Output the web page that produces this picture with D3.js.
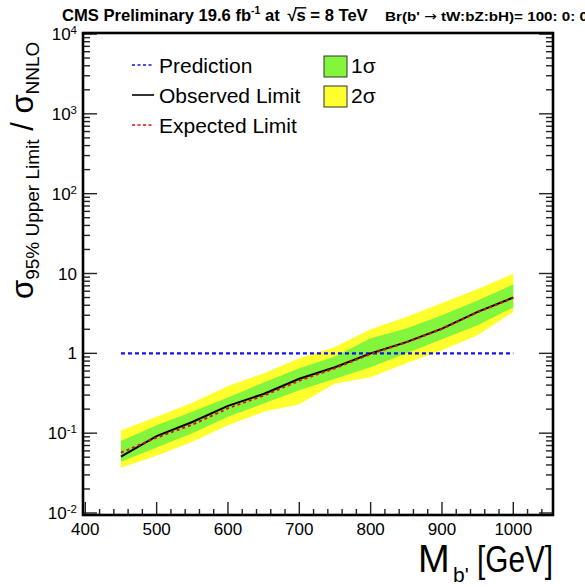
<!DOCTYPE html>
<html>
<head>
<meta charset="utf-8">
<script src="https://cdn.jsdelivr.net/npm/d3@7"></script>
<style>
  html, body { margin: 0; padding: 0; background: #fff; }
  svg { display: block; font-family: "Liberation Sans", Arial, Helvetica, sans-serif; }
  .pre { white-space: pre; }
</style>
</head>
<body>
<svg id="chart" width="585" height="587"></svg>
<script>
// ---------------- data ----------------
const masses    = [450, 500, 550, 600, 650, 700, 750, 800, 850, 900, 950, 1000];
const observed  = [0.051, 0.092, 0.138, 0.22, 0.31, 0.48, 0.67, 1.0, 1.38, 2.04, 3.3, 5.0];
const expected  = [0.057, 0.088, 0.128, 0.205, 0.295, 0.455, 0.65, 0.98, 1.37, 2.02, 3.28, 4.95];
const sigma1Lo  = [0.044, 0.066, 0.100, 0.160, 0.235, 0.345, 0.48, 0.67, 1.00, 1.50, 2.24, 3.76];
const sigma1Hi  = [0.080, 0.126, 0.185, 0.280, 0.430, 0.650, 0.91, 1.54, 2.05, 3.00, 4.60, 7.30];
const sigma2Lo  = [0.037, 0.052, 0.078, 0.126, 0.185, 0.230, 0.42, 0.50, 0.75, 1.09, 1.68, 3.30];
const sigma2Hi  = [0.108, 0.160, 0.240, 0.390, 0.560, 0.870, 1.20, 2.00, 2.85, 4.26, 6.40, 10.0];
const prediction = [1, 1];
const predictionMass = [450, 1000];
const xTicks = [400, 500, 600, 700, 800, 900, 1000];
const yTickExp = [-2, -1, 0, 1, 2, 3, 4];
const legendLines = ["Prediction", "Observed Limit", "Expected Limit"];
const legendBands = ["1σ", "2σ"];

// ---------------- layout ----------------
const svg = d3.select("#chart");
const frame = { left: 83, right: 553, top: 33, bottom: 515 };
const x = d3.scaleLinear().domain([400, 1000]).range([85.3, 513.3]);
const y = d3.scaleLog().domain([1e-2, 1e4]).range([513, 34]);
const GREEN = "#83f53c", YELLOW = "#ffff2e";

const idx = d3.range(masses.length);
const area = (lo, hi) => d3.area()
  .x(i => x(masses[i])).y0(i => y(lo[i])).y1(i => y(hi[i]))(idx);
const line = (vals) => d3.line().x(i => x(masses[i])).y(i => y(vals[i]))(idx);

svg.append("path").attr("d", area(sigma2Lo, sigma2Hi)).attr("fill", YELLOW);
svg.append("path").attr("d", area(sigma1Lo, sigma1Hi)).attr("fill", GREEN);

svg.append("path")
  .attr("d", d3.line().x((d, i) => x(predictionMass[i])).y(d => y(d))(prediction))
  .attr("fill", "none").attr("stroke", "#1010f0").attr("stroke-width", 2.2)
  .attr("stroke-dasharray", "4,3");
svg.append("path").attr("d", line(observed))
  .attr("fill", "none").attr("stroke", "#000").attr("stroke-width", 2);
svg.append("path").attr("d", line(expected))
  .attr("fill", "none").attr("stroke", "#e01010").attr("stroke-width", 2)
  .attr("stroke-dasharray", "3,3");

// ---------------- axes ----------------
const yMinor = [];
for (let e = -2; e < 4; e++) for (let k = 2; k <= 9; k++) yMinor.push(k * Math.pow(10, e));
const yMajor = yTickExp.map(e => Math.pow(10, e));
const tickG = svg.append("g").attr("stroke", "#222").attr("stroke-width", 1.4);
yMajor.forEach(v => {
  tickG.append("line").attr("x1", frame.left).attr("x2", frame.left + 14).attr("y1", y(v)).attr("y2", y(v));
  tickG.append("line").attr("x1", frame.right).attr("x2", frame.right - 14).attr("y1", y(v)).attr("y2", y(v));
});
yMinor.forEach(v => {
  tickG.append("line").attr("x1", frame.left).attr("x2", frame.left + 7).attr("y1", y(v)).attr("y2", y(v));
  tickG.append("line").attr("x1", frame.right).attr("x2", frame.right - 7).attr("y1", y(v)).attr("y2", y(v));
});
const xMinor = d3.range(400, 1041, 20);
xMinor.forEach(v => {
  const major = v % 100 === 0;
  tickG.append("line").attr("x1", x(v)).attr("x2", x(v))
    .attr("y1", frame.bottom).attr("y2", frame.bottom - (major ? 13 : 6));
});

svg.append("rect").attr("x", frame.left).attr("y", frame.top)
  .attr("width", frame.right - frame.left).attr("height", frame.bottom - frame.top)
  .attr("fill", "none").attr("stroke", "#000").attr("stroke-width", 2.6);

// y tick labels
yTickExp.forEach(e => {
  const t = svg.append("text").attr("x", 77).attr("y", y(Math.pow(10, e)) + 6)
    .attr("text-anchor", "end").attr("font-size", 17).attr("fill", "#000");
  if (e === 0) t.text("1");
  else if (e === 1) t.text("10");
  else {
    t.append("tspan").text("10");
    t.append("tspan").attr("font-size", 11.5).attr("dy", -6).text(String(e));
  }
});
xTicks.forEach(v => {
  svg.append("text").attr("x", x(v)).attr("y", 535).attr("text-anchor", "middle")
    .attr("font-size", 17).attr("fill", "#000").text(v);
});

// x axis title
svg.append("text").attr("x", 418).attr("y", 572).attr("font-size", 38).attr("fill", "#000").text("M");
svg.append("text").attr("x", 453).attr("y", 582).attr("font-size", 21).attr("fill", "#000").text("b'");
svg.append("text").attr("x", 477).attr("y", 572).attr("font-size", 36).attr("fill", "#000")
  .attr("textLength", 76).attr("lengthAdjust", "spacingAndGlyphs").text("[GeV]");

// y axis title
const yt = svg.append("text").attr("transform", "translate(33,299) rotate(-90)").attr("fill", "#000");
yt.append("tspan").attr("font-size", 31).text("σ");
yt.append("tspan").attr("font-size", 19).attr("dy", 6).text("95% Upper Limit");
yt.append("tspan").attr("font-size", 31).attr("dy", -6).text(" / ");
yt.append("tspan").attr("font-size", 31).text("σ");
yt.append("tspan").attr("font-size", 19).attr("dy", 6).text("NNLO");

// title, built piece by piece
let tx = 62;
const tY = 21;
function piece(str, size, dy) {
  const t = svg.append("text").attr("class", "pre").attr("x", tx).attr("y", tY + (dy || 0))
    .attr("font-size", size).attr("font-weight", "bold").attr("fill", "#000").text(str);
  const w = t.node().getComputedTextLength();
  const x0 = tx;
  tx += w;
  return { x0, w };
}
piece("CMS Preliminary 19.6 fb", 16.6);
piece("-1", 10.5, -7);
piece(" at ", 16.6);
tx += 3;
const rad = piece("√", 16.6);
const sP = piece("s", 16.6);
piece(" = 8 TeV", 16.6);
svg.append("line").attr("x1", rad.x0 + rad.w - 1.5).attr("x2", sP.x0 + sP.w + 0.5)
  .attr("y1", tY - 13.2).attr("y2", tY - 13.2).attr("stroke", "#000").attr("stroke-width", 1.4);

const br = svg.append("text").attr("class", "pre").attr("x", 385).attr("y", 21)
  .attr("font-size", 13.5).attr("font-weight", "bold").attr("fill", "#000")
  .attr("textLength", 203).attr("lengthAdjust", "spacingAndGlyphs");
br.append("tspan").text("Br(b' ");
br.append("tspan").attr("font-family", "DejaVu Sans").attr("font-weight", "normal").text("→");
br.append("tspan").text(" tW:bZ:bH)= 100: 0: 0");

// legend
const legY = [65, 95, 125];
const legStyles = [
  { stroke: "#1010f0", dash: "3,2.5" },
  { stroke: "#000", dash: null },
  { stroke: "#e01010", dash: "3,2.5" }
];
legendLines.forEach((name, i) => {
  svg.append("line").attr("x1", 132).attr("x2", 154).attr("y1", legY[i]).attr("y2", legY[i])
    .attr("stroke", legStyles[i].stroke).attr("stroke-width", 1.6)
    .attr("stroke-dasharray", legStyles[i].dash);
  svg.append("text").attr("x", 159).attr("y", legY[i] + 7.5).attr("font-size", 21)
    .attr("fill", "#000").text(name);
});
const bandColors = [GREEN, YELLOW];
legendBands.forEach((name, i) => {
  svg.append("rect").attr("x", 324).attr("y", 56 + i * 30).attr("width", 23).attr("height", 21)
    .attr("fill", bandColors[i]).attr("stroke", "#333").attr("stroke-width", 1);
  svg.append("text").attr("x", 351).attr("y", legY[i] + 7.5).attr("font-size", 21)
    .attr("fill", "#000").text(name);
});
</script>
</body>
</html>
